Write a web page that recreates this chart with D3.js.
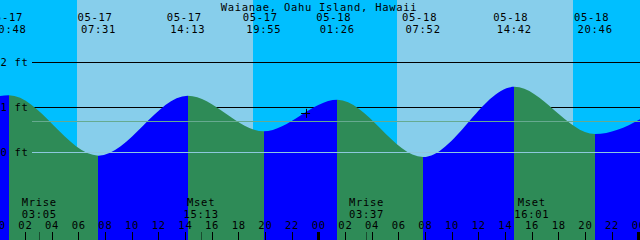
<!DOCTYPE html>
<html>
<head>
<meta charset="utf-8">
<script src="https://cdn.jsdelivr.net/npm/d3@7"></script>
<style>
  html, body { margin: 0; padding: 0; background: #fff; }
  svg { display: block; }
  text { font-family: "DejaVu Sans Mono", monospace; font-size: 10.5px; letter-spacing: 0.7px; fill: #000; }
</style>
</head>
<body>
<script>
// ---------- data ----------
const title = "Waianae, Oahu Island, Hawaii";
const viewStart = "2024-05-17 00:08";
const viewEnd = "2024-05-19 00:08";
const hourTickStart = "2024-05-17 00:00";

const tideTimes = ["2024-05-16 18:50", "2024-05-17 00:48", "2024-05-17 07:31", "2024-05-17 14:13",
                   "2024-05-17 19:55", "2024-05-18 01:26", "2024-05-18 07:52", "2024-05-18 14:42",
                   "2024-05-18 20:46", "2024-05-19 02:05"];
const tideHeights = [0.45, 1.27, -0.07, 1.26, 0.47, 1.17, -0.10, 1.46, 0.41, 1.10];

const sunriseTimes = ["2024-05-17 05:55", "2024-05-18 05:55"];
const sunsetTimes  = ["2024-05-17 19:08", "2024-05-18 19:08"];

const moonTimes  = ["2024-05-17 03:05", "2024-05-17 15:13", "2024-05-18 03:37", "2024-05-18 16:01"];
const moonLabels = ["Mrise", "Mset", "Mrise", "Mset"];

const depthTicks = [0, 1, 2];
const depthLabels = ["0 ft", "1 ft", "2 ft"];
const meanLevel = 0.71;

const nowTime = "2024-05-17 23:03";
const nowHeight = 0.87;

// ---------- setup ----------
const W = 640, H = 240;
const parse = d3.timeParse("%Y-%m-%d %H:%M");
const colors = { night: "#00BFFF", day: "#87CEEB", rise: "#0000FF", fall: "#2E8B57",
                 datum: "#8cc8de", msl: "#66aa90" };

const x = d3.scaleTime().domain([parse(viewStart), parse(viewEnd)]).range([0, W]);
const y = d3.scaleLinear().domain([0, 2]).range([152.5, 62.5]);

const tides = tideTimes.map((t, i) => ({ t: parse(t), h: tideHeights[i] }));

const svg = d3.select("body").append("svg").attr("width", W).attr("height", H);

// background: night everywhere, then day bands
svg.append("rect").attr("x", 0).attr("y", 0).attr("width", W).attr("height", H)
  .attr("fill", colors.night);
svg.selectAll("rect.day").data(sunriseTimes).enter().append("rect")
  .attr("class", "day")
  .attr("x", (d) => x(parse(d)))
  .attr("y", 0)
  .attr("width", (d, i) => x(parse(sunsetTimes[i])) - x(parse(d)))
  .attr("height", H)
  .attr("fill", colors.day)
  .attr("shape-rendering", "crispEdges");

// black depth lines (under the tide)
svg.selectAll("line.depth").data(depthTicks.filter(d => d > 0)).enter().append("line")
  .attr("x1", 32).attr("x2", W)
  .attr("y1", d => y(d)).attr("y2", d => y(d))
  .attr("stroke", "#000").attr("stroke-width", 1)
  .attr("shape-rendering", "crispEdges");

// tide area
const area = d3.area().x(d => x(d.t)).y0(H).y1(d => y(d.h)).curve(d3.curveMonotoneX);
const defs = svg.append("defs");
defs.append("clipPath").attr("id", "tideClip").append("path").attr("d", area(tides));

const segs = d3.pairs(tides);
svg.append("g").attr("clip-path", "url(#tideClip)")
  .selectAll("rect").data(segs).enter().append("rect")
  .attr("x", d => x(d[0].t))
  .attr("y", 0)
  .attr("width", d => x(d[1].t) - x(d[0].t))
  .attr("height", H)
  .attr("fill", d => d[1].h > d[0].h ? colors.rise : colors.fall)
  .attr("shape-rendering", "crispEdges");

// datum and mean level lines (on top)
svg.append("line").attr("x1", 32).attr("x2", W)
  .attr("y1", y(0)).attr("y2", y(0))
  .attr("stroke", colors.datum).attr("stroke-width", 1).attr("shape-rendering", "crispEdges");
svg.append("line").attr("x1", 32).attr("x2", W)
  .attr("y1", Math.round(y(meanLevel)) + 0.5).attr("y2", Math.round(y(meanLevel)) + 0.5)
  .attr("stroke", colors.msl).attr("stroke-width", 1).attr("shape-rendering", "crispEdges");

// depth labels
svg.selectAll("text.dl").data(depthTicks).enter().append("text")
  .attr("x", 0.5).attr("y", d => y(d) + 3.8)
  .text((d, i) => depthLabels[i]);

// now marker
const nx = x(parse(nowTime)), ny = y(nowHeight);
svg.append("line").attr("x1", nx - 4.5).attr("x2", nx + 4.5).attr("y1", Math.round(ny) + 0.5).attr("y2", Math.round(ny) + 0.5)
  .attr("stroke", "#000").attr("stroke-width", 1);
svg.append("line").attr("x1", Math.round(nx) + 0.5).attr("x2", Math.round(nx) + 0.5).attr("y1", ny - 4.5).attr("y2", ny + 4.5)
  .attr("stroke", "#000").attr("stroke-width", 1);

// title
svg.append("text").attr("x", 319).attr("y", 10.5).attr("text-anchor", "middle").text(title);

// tide labels
const shown = tides.filter(d => x(d.t) > -30 && x(d.t) < W + 30);
const fmtDate = d3.timeFormat("%m-%d"), fmtTime = d3.timeFormat("%H:%M");
svg.selectAll("text.td").data(shown).enter().append("text")
  .attr("x", d => x(d.t) - 3.5).attr("y", 21).attr("text-anchor", "middle")
  .text(d => fmtDate(d.t));
svg.selectAll("text.tt").data(shown).enter().append("text")
  .attr("x", d => x(d.t)).attr("y", 33).attr("text-anchor", "middle")
  .text(d => fmtTime(d.t));

// moon labels
const moons = moonTimes.map((t, i) => ({ t: parse(t), label: moonLabels[i] }));
svg.selectAll("text.ml").data(moons).enter().append("text")
  .attr("x", d => x(d.t)).attr("y", 206).attr("text-anchor", "middle")
  .text(d => d.label);
svg.selectAll("text.mt").data(moons).enter().append("text")
  .attr("x", d => x(d.t)).attr("y", 217.5).attr("text-anchor", "middle")
  .text(d => fmtTime(d.t));

// hour axis (including the midnight just left of the view)
const axis = d3.axisTop(x)
  .tickValues(d3.timeHour.every(2).range(parse(hourTickStart), parse(viewEnd)))
  .tickFormat(d3.timeFormat("%H"))
  .tickSize(8).tickPadding(3);
const gAxis = svg.append("g").attr("transform", `translate(0,${H})`).call(axis);
gAxis.select(".domain").remove();
gAxis.attr("font-family", null).attr("font-size", null);
gAxis.selectAll(".tick line").attr("stroke", "#000")
  .attr("stroke-width", d => d.getHours() === 0 ? 3 : 1)
  .attr("shape-rendering", "crispEdges");
gAxis.selectAll(".tick text").attr("fill", "#000");

// moon ticks
svg.selectAll("line.mk").data(moons).enter().append("line")
  .attr("x1", d => Math.round(x(d.t)) + 0.5).attr("x2", d => Math.round(x(d.t)) + 0.5)
  .attr("y1", 232).attr("y2", H)
  .attr("stroke", "rgba(0,0,0,0.45)").attr("stroke-width", 1)
  .attr("shape-rendering", "crispEdges");
</script>
</body>
</html>
